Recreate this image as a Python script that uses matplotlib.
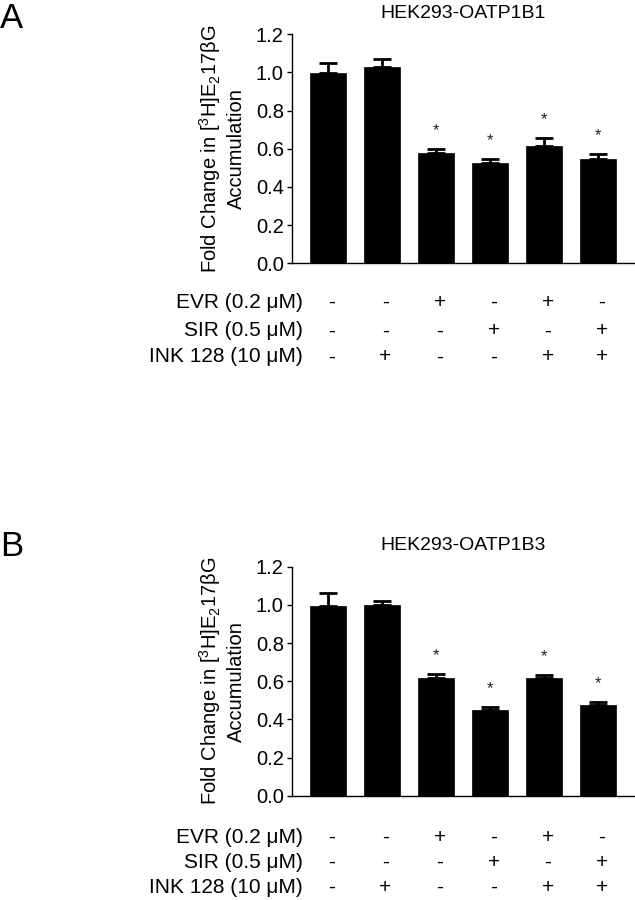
import matplotlib
matplotlib.use("Agg")
import matplotlib.pyplot as plt
import matplotlib.transforms as mtransforms
import numpy as np

plt.rcParams['font.family'] = ['Liberation Sans', 'DejaVu Sans']
plt.rcParams['mathtext.fontset'] = 'custom'
plt.rcParams['mathtext.rm'] = 'Liberation Sans'
plt.rcParams['mathtext.it'] = 'Liberation Sans:italic'
plt.rcParams['mathtext.bf'] = 'Liberation Sans:bold'

# ---- data ----
titles = ["HEK293-OATP1B1", "HEK293-OATP1B3"]
panel_letters = ["A", "B"]
row_labels = ["EVR (0.2 \u03bcM)", "SIR (0.5 \u03bcM)", "INK 128 (10 \u03bcM)"]
evr = [0, 0, 1, 0, 1, 0]
sir = [0, 0, 0, 1, 0, 1]
ink = [0, 1, 0, 0, 1, 1]
means_1b1 = [0.995, 1.027, 0.580, 0.527, 0.615, 0.548]
sem_1b1 = [0.053, 0.045, 0.019, 0.021, 0.042, 0.024]
means_1b3 = [0.993, 0.999, 0.618, 0.448, 0.615, 0.473]
sem_1b3 = [0.067, 0.021, 0.018, 0.016, 0.017, 0.017]
significant = [False, False, True, True, True, True]
yticks = [0.0, 0.2, 0.4, 0.6, 0.8, 1.0, 1.2]
ylabel = "Fold Change in [$^3$H]E$_2$17\u03b2G\nAccumulation"

W, H = 635, 900
fig = plt.figure(figsize=(W / 100, H / 100), dpi=100)

ax_left = 291.5 / W
ax_w = 1.0 - ax_left
ax_h = 229 / H
axes_tops = [34.3, 566.7]

panels = [(means_1b1, sem_1b1), (means_1b3, sem_1b3)]
rows = [evr, sir, ink]
row_offsets_px = [[39, 67.5, 93.5], [41.5, 66.5, 91.5]]
letter_y = [18, 547]

for p, (means, sems) in enumerate(panels):
    top = axes_tops[p]
    ax = fig.add_axes([ax_left, 1 - (top + 229) / H, ax_w, ax_h])
    x = np.arange(len(means))
    ax.bar(x, means, width=0.667, color='black', edgecolor='black', linewidth=0.5, zorder=2)
    ax.errorbar(x, means, yerr=[np.zeros(len(sems)), sems], fmt='none',
                ecolor='black', elinewidth=2, capsize=6.5, capthick=2, zorder=3)
    for xi, m, s, sig in zip(x, means, sems, significant):
        if sig:
            ax.annotate("*", xy=(xi, m + s), xytext=(0, 10), textcoords='offset points',
                        ha='center', va='baseline', fontsize=12, color='#222222')
    ax.set_xlim(-0.667, 5.68)
    ax.set_ylim(0, 1.2)
    ax.set_yticks(yticks)
    ax.set_yticklabels([f"{t:.1f}" for t in yticks], fontsize=14.5)
    ax.set_xticks([])
    for side in ['top', 'right']:
        ax.spines[side].set_visible(False)
    ax.spines['left'].set_linewidth(1.0)
    ax.spines['bottom'].set_linewidth(1.0)
    ax.tick_params(axis='y', direction='out', length=3.5, width=1.0, pad=2)
    ax.set_ylabel(ylabel, fontsize=14.5, linespacing=1.25, labelpad=7)
    ax.set_title(titles[p], fontsize=14, pad=12)

    trans = mtransforms.blended_transform_factory(ax.transData, ax.transAxes)
    for r, (lab, vals) in enumerate(zip(row_labels, rows)):
        yfrac = -row_offsets_px[p][r] / 229
        ax.text(-0.46, yfrac, lab, transform=trans, ha='right', va='center',
                fontsize=15, clip_on=False)
        for xi, v in zip(x, vals):
            ax.text(xi + 0.07, yfrac, "+" if v else "-", transform=trans,
                    ha='center', va='center', fontsize=15, clip_on=False)

    fig.text(0.0, 1 - letter_y[p] / H, panel_letters[p], fontsize=25,
             ha='left', va='center')

fig.savefig("out.png", dpi=100)
